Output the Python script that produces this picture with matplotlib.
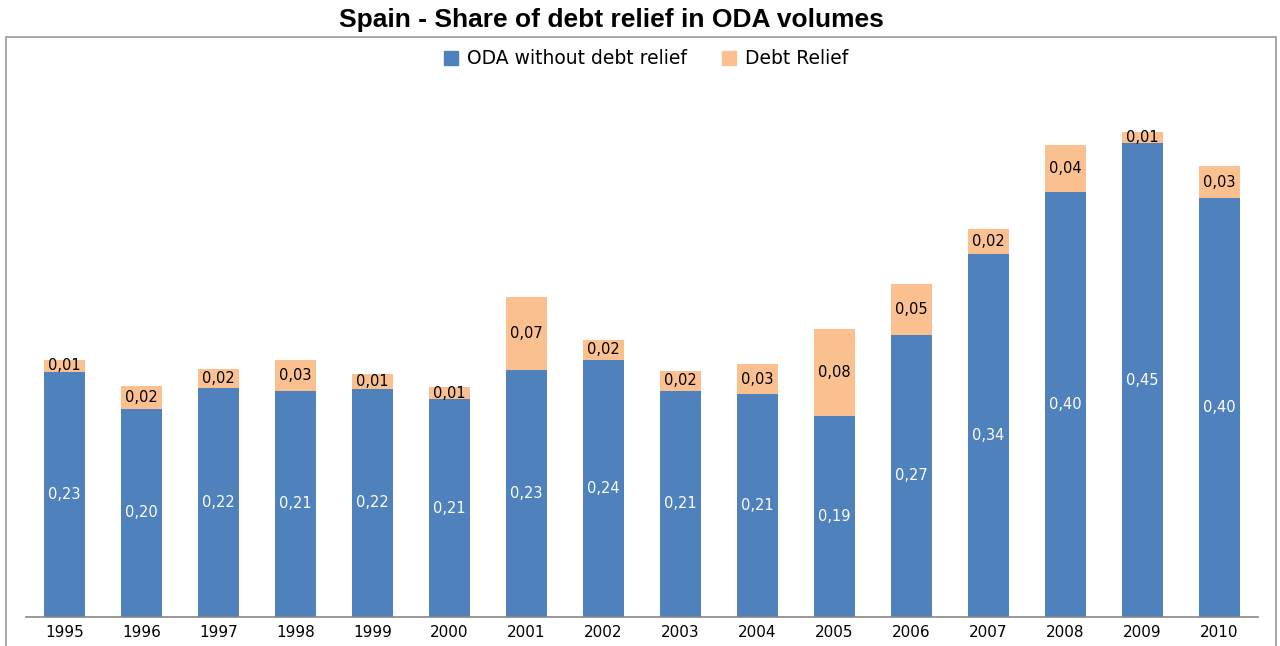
import matplotlib
matplotlib.use("Agg")
import matplotlib.pyplot as plt
from matplotlib.patches import Rectangle, Patch
import numpy as np

years = ["1995", "1996", "1997", "1998", "1999", "2000", "2001", "2002",
         "2003", "2004", "2005", "2006", "2007", "2008", "2009", "2010"]
oda_without_debt = [0.232, 0.197, 0.217, 0.214, 0.216, 0.206, 0.234, 0.243,
                    0.214, 0.211, 0.190, 0.267, 0.343, 0.402, 0.448, 0.396]
debt_relief = [0.0114, 0.0215, 0.018, 0.0287, 0.0138, 0.0116, 0.0684, 0.0193,
               0.0189, 0.0281, 0.0823, 0.0485, 0.0237, 0.0447, 0.0104, 0.0303]

title = "Spain - Share of debt relief in ODA volumes"
series_names = ["ODA without debt relief", "Debt Relief"]
blue = "#4F81BD"
orange = "#FAC090"

W, H = 1280, 646
fig = plt.figure(figsize=(W / 100, H / 100), dpi=100)

# outer chart border
fig.patches.append(Rectangle((5.5 / W, -0.05), (1276 - 5.5) / W, 1.05 - 37 / H,
                             transform=fig.transFigure, fill=False,
                             edgecolor="#9a9a9a", linewidth=1.2))

left, right, bottom, top = 26, 1258, 617, 88.5
ax = fig.add_axes([left / W, 1 - bottom / H, (right - left) / W, (bottom - top) / H])

x = np.arange(len(years))
bw = 0.52
ax.bar(x, oda_without_debt, bw, color=blue, linewidth=0)
ax.bar(x, debt_relief, bw, bottom=oda_without_debt, color=orange, linewidth=0)

font = "DejaVu Sans"
for xi, v, d in zip(x, oda_without_debt, debt_relief):
    ax.text(xi, v / 2, f"{v:.2f}".replace(".", ","), ha="center", va="center",
            color="white", fontsize=10.5, family=font)
    ax.text(xi, v + d / 2, f"{d:.2f}".replace(".", ","), ha="center", va="center",
            color="black", fontsize=10.5, family=font)

ax.set_xlim(-0.5, len(years) - 0.5)
ax.set_ylim(0, 0.5)
ax.set_xticks(x)
ax.set_xticklabels(years, fontsize=11, family=font)
ax.tick_params(axis="x", length=0, pad=6)
ax.set_yticks([])
for s in ["top", "right", "left"]:
    ax.spines[s].set_visible(False)
ax.spines["bottom"].set_color("#868686")
ax.spines["bottom"].set_linewidth(1.2)

fig.text(611 / W, 1 - 20 / H, title, ha="center", va="center",
         fontsize=19, fontweight="bold", family="Liberation Sans")

handles = [Patch(color=blue), Patch(color=orange)]
fig.legend(handles, series_names, loc="center", bbox_to_anchor=(646 / W, 1 - 59 / H),
           ncol=2, frameon=False, prop={"family": font, "size": 13.5},
           handlelength=0.75, handleheight=0.75, handletextpad=0.45, columnspacing=1.9)

fig.savefig("out.png", dpi=100)
